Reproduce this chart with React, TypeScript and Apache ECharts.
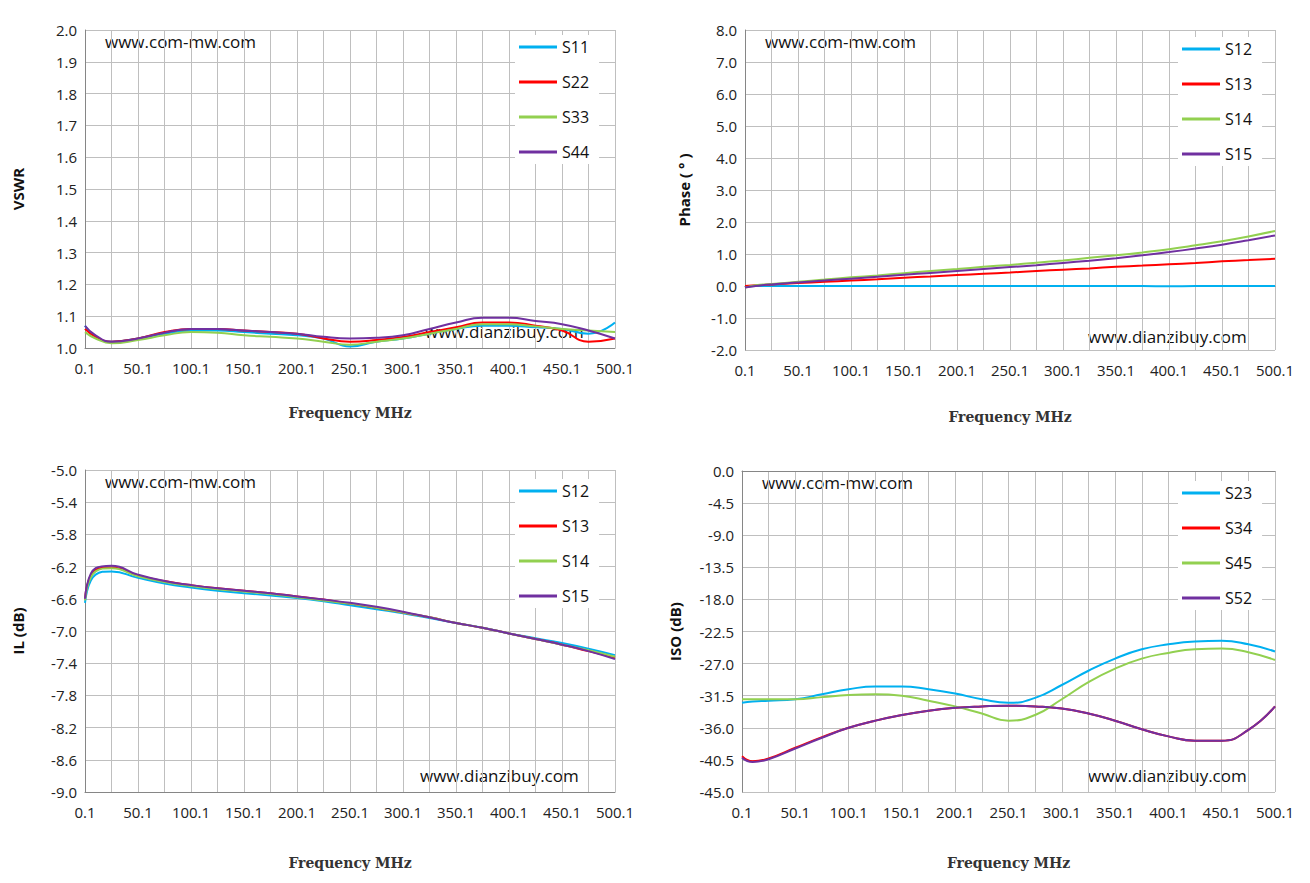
import * as echarts from "echarts";
import { useEffect, useRef } from "react";

const FREQ = [0, 10, 25, 50, 75, 100, 125, 150, 175, 200, 225, 250, 275, 300, 325, 350, 375, 400, 425, 450, 475, 500];

const VSWR_S11 = [1.07, 1.035, 1.02, 1.03, 1.045, 1.055, 1.055, 1.05, 1.045, 1.04, 1.03, 1.005, 1.02, 1.03, 1.045, 1.06, 1.07, 1.07, 1.065, 1.06, 1.045, 1.08];
const VSWR_S22 = [1.06, 1.035, 1.02, 1.03, 1.05, 1.06, 1.06, 1.055, 1.05, 1.045, 1.03, 1.02, 1.025, 1.035, 1.05, 1.065, 1.08, 1.08, 1.07, 1.055, 1.02, 1.03];
const VSWR_S33 = [1.05, 1.03, 1.015, 1.025, 1.04, 1.05, 1.048, 1.04, 1.035, 1.03, 1.02, 1.01, 1.02, 1.03, 1.045, 1.06, 1.075, 1.075, 1.068, 1.06, 1.055, 1.05];
const VSWR_S44 = [1.07, 1.04, 1.02, 1.03, 1.048, 1.06, 1.06, 1.055, 1.05, 1.045, 1.035, 1.03, 1.032, 1.04, 1.06, 1.08, 1.095, 1.095, 1.085, 1.075, 1.055, 1.03];

const PH_S12 = [-0.03, 0, 0, 0, 0, 0, 0, 0, 0, 0, 0, 0, 0, 0, 0, 0, 0, -0.01, 0, 0, 0, 0];
const PH_S13 = [0, 0.02, 0.05, 0.09, 0.13, 0.17, 0.21, 0.26, 0.3, 0.34, 0.38, 0.42, 0.47, 0.51, 0.55, 0.6, 0.64, 0.68, 0.72, 0.77, 0.81, 0.85];
const PH_S14 = [-0.05, 0.02, 0.06, 0.13, 0.2, 0.27, 0.33, 0.4, 0.47, 0.53, 0.6, 0.66, 0.73, 0.8, 0.88, 0.96, 1.05, 1.15, 1.27, 1.4, 1.55, 1.72];
const PH_S15 = [-0.05, 0, 0.05, 0.11, 0.17, 0.23, 0.29, 0.35, 0.41, 0.47, 0.53, 0.59, 0.65, 0.72, 0.79, 0.87, 0.96, 1.06, 1.17, 1.29, 1.43, 1.58];

const IL_S12 = [-6.65, -6.3, -6.26, -6.34, -6.41, -6.46, -6.5, -6.53, -6.56, -6.59, -6.63, -6.68, -6.73, -6.78, -6.84, -6.9, -6.96, -7.03, -7.09, -7.15, -7.22, -7.3];
const IL_S13 = [-6.6, -6.24, -6.21, -6.31, -6.38, -6.43, -6.47, -6.5, -6.53, -6.57, -6.61, -6.66, -6.71, -6.77, -6.83, -6.9, -6.96, -7.03, -7.1, -7.17, -7.25, -7.33];
const IL_S14 = [-6.62, -6.26, -6.22, -6.32, -6.39, -6.44, -6.48, -6.51, -6.54, -6.58, -6.62, -6.66, -6.71, -6.77, -6.83, -6.9, -6.96, -7.03, -7.1, -7.17, -7.24, -7.32];
const IL_S15 = [-6.6, -6.22, -6.19, -6.3, -6.38, -6.43, -6.47, -6.5, -6.53, -6.57, -6.61, -6.65, -6.7, -6.76, -6.83, -6.9, -6.96, -7.03, -7.1, -7.17, -7.25, -7.35];

const ISO_S23 = [-32.5, -32.3, -32.2, -32, -31.3, -30.6, -30.2, -30.2, -30.6, -31.2, -32, -32.5, -31.8, -30, -28, -26.3, -25, -24.3, -23.9, -23.8, -24.3, -25.3];
const ISO_S34 = [-40, -40.7, -40.3, -38.8, -37.3, -36, -35, -34.2, -33.6, -33.2, -33, -32.9, -33, -33.3, -34, -35, -36.2, -37.2, -37.8, -37.8, -36.3, -33];
const ISO_S45 = [-32, -32, -32, -32, -31.7, -31.4, -31.3, -31.5, -32.2, -33, -34, -35, -34.2, -32, -29.6, -27.7, -26.3, -25.5, -25, -24.9, -25.4, -26.5];
const ISO_S52 = [-40.2, -40.8, -40.4, -38.9, -37.4, -36, -35, -34.2, -33.6, -33.2, -33, -32.9, -33, -33.3, -34, -35, -36.2, -37.2, -37.8, -37.8, -36.3, -33];

const COLORS = ["#00b0f0", "#ff0000", "#92d050", "#7030a0"];
const FONT = "'Open Sans', sans-serif";

const panels = [
  { grid: { left: 85, top: 30, width: 530, height: 318 }, y: [1.0, 2.0, 0.1, 1], name: "VSWR", names: ["S11", "S22", "S33", "S44"], data: [VSWR_S11, VSWR_S22, VSWR_S33, VSWR_S44], legend: [515, 35], wm2: [425, 323], xGap: 58, yGap: 60 },
  { grid: { left: 745, top: 30, width: 530, height: 320 }, y: [-2, 8, 1, 1], name: "Phase ( ° )", names: ["S12", "S13", "S14", "S15"], data: [PH_S12, PH_S13, PH_S14, PH_S15], legend: [1178, 37], wm2: [1088, 328], xGap: 60, yGap: 54 },
  { grid: { left: 85, top: 470, width: 530, height: 322 }, y: [-9, -5, 0.4, 1], name: "IL (dB)", names: ["S12", "S13", "S14", "S15"], data: [IL_S12, IL_S13, IL_S14, IL_S15], legend: [515, 479], wm2: [420, 767], xGap: 64, yGap: 60 },
  { grid: { left: 742, top: 471, width: 533, height: 321 }, y: [-45, 0, 4.5, 1], name: "ISO (dB)", names: ["S23", "S34", "S45", "S52"], data: [ISO_S23, ISO_S34, ISO_S45, ISO_S52], legend: [1178, 481], wm2: [1088, 767], xGap: 64, yGap: 60 },
];

export default function App() {
  const ref = useRef<HTMLDivElement>(null);
  useEffect(() => {
    const el = ref.current;
    if (!el) return;
    const chart = echarts.init(el, undefined, { renderer: "svg" });
    const gridLine = { lineStyle: { color: "#bfbfbf", width: 1 } };
    chart.setOption({
      animation: false,
      backgroundColor: "#ffffff",
      textStyle: { fontFamily: FONT },
      grid: panels.map((p) => p.grid),
      xAxis: panels.map((p, i) => ({
        gridIndex: i,
        type: "value",
        min: 0,
        max: 500,
        interval: 50,
        name: "Frequency MHz",
        nameLocation: "middle",
        nameGap: p.xGap,
        nameTextStyle: { fontFamily: "'DejaVu Serif', serif", fontWeight: "bold", fontSize: 14, color: "#333" },
        axisLine: { lineStyle: { color: "#868686" } },
        axisTick: { show: false },
        axisLabel: { color: "#222", fontSize: 15, margin: 12, formatter: (v: number) => (v + 0.1).toFixed(1) },
        splitLine: { show: true, ...gridLine },
        minorTick: { show: false, splitNumber: 2 },
        minorSplitLine: { show: true, ...gridLine },
      })),
      yAxis: panels.map((p, i) => ({
        gridIndex: i,
        type: "value",
        min: p.y[0],
        max: p.y[1],
        interval: p.y[2],
        name: p.name,
        nameLocation: "middle",
        nameGap: p.yGap,
        nameTextStyle: { fontWeight: "bold", fontSize: 15, color: "#111" },
        axisLine: { show: true, lineStyle: { color: "#868686" } },
        axisTick: { show: false },
        axisLabel: { color: "#222", fontSize: 15, formatter: (v: number) => v.toFixed(1) },
        splitLine: { show: true, ...gridLine },
      })),
      legend: panels.map((p) => ({
        data: p.names,
        orient: "vertical",
        left: p.legend[0],
        top: p.legend[1],
        itemWidth: 38,
        itemHeight: 3,
        itemGap: 19,
        icon: "rect",
        backgroundColor: "#ffffff",
        padding: [4, 10, 4, 4],
        textStyle: { fontSize: 16, color: "#111", fontFamily: FONT },
      })),
      graphic: panels.flatMap((p) => [
        { type: "text", left: p.grid.left + 20, top: p.grid.top + 3, style: { text: "www.com-mw.com", fontSize: 17, fill: "#111", fontFamily: FONT } },
        { type: "text", left: p.wm2[0], top: p.wm2[1], style: { text: "www.dianzibuy.com", fontSize: 17, fill: "#111", fontFamily: FONT } },
      ]),
      series: panels.flatMap((p, i) =>
        p.names.map((n, k) => ({
          type: "line",
          name: n,
          xAxisIndex: i,
          yAxisIndex: i,
          smooth: true,
          showSymbol: false,
          color: COLORS[k],
          lineStyle: { width: 2 },
          data: FREQ.map((f, j) => [f, p.data[k][j]]),
        })),
      ),
    });
    return () => chart.dispose();
  }, []);
  return <div ref={ref} style={{ position: "fixed", left: 0, top: 0, width: 1310, height: 883 }} />;
}
